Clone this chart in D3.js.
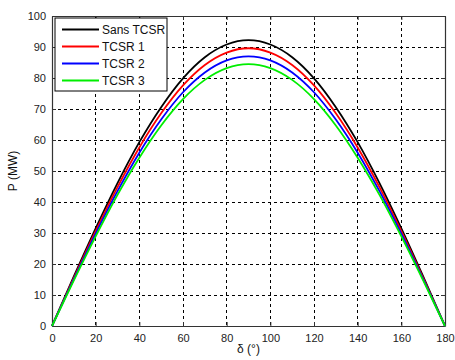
<!DOCTYPE html>
<html>
<head>
<meta charset="utf-8">
<script src="https://cdn.jsdelivr.net/npm/d3@7"></script>
<style>
body { margin: 0; background: #fff; }
svg { display: block; font-family: "Liberation Sans", Arial, sans-serif; }
</style>
</head>
<body>
<svg width="455" height="360"></svg>
<script>
// angles in degrees
const delta = [0, 10, 20, 30, 40, 50, 60, 70, 80, 90, 100, 110, 120, 130, 140, 150, 160, 170, 180];

// P (MW)
const sansTcsr = [0, 16.0, 31.5, 46.1, 59.3, 70.6, 79.9, 86.7, 90.8, 92.2, 90.8, 86.7, 79.9, 70.6, 59.3, 46.1, 31.5, 16.0, 0];
const tcsr1    = [0, 15.5, 30.6, 44.8, 57.6, 68.6, 77.6, 84.2, 88.2, 89.6, 88.2, 84.2, 77.6, 68.6, 57.6, 44.8, 30.6, 15.5, 0];
const tcsr2    = [0, 15.1, 29.8, 43.5, 55.9, 66.6, 75.4, 81.8, 85.7, 87.0, 85.7, 81.8, 75.4, 66.6, 55.9, 43.5, 29.8, 15.1, 0];
const tcsr3    = [0, 14.7, 28.9, 42.3, 54.3, 64.7, 73.2, 79.4, 83.2, 84.5, 83.2, 79.4, 73.2, 64.7, 54.3, 42.3, 28.9, 14.7, 0];

const seriesNames = ["Sans TCSR", "TCSR 1", "TCSR 2", "TCSR 3"];
const seriesColors = ["#000000", "#ff0000", "#0000ff", "#00ee00"];
const xTicks = [0, 20, 40, 60, 80, 100, 120, 140, 160, 180];
const yTicks = [0, 10, 20, 30, 40, 50, 60, 70, 80, 90, 100];

const allSeries = [sansTcsr, tcsr1, tcsr2, tcsr3];

const svg = d3.select('svg');
const plotLeft = 52, plotRight = 445, plotTop = 16, plotBottom = 326;

const x = d3.scaleLinear().domain([0, 180]).range([plotLeft, plotRight]);
const y = d3.scaleLinear().domain([0, 100]).range([plotBottom, plotTop]);

// grid
const grid = svg.append('g').attr('stroke', '#000').attr('stroke-width', 1)
    .attr('stroke-dasharray', '3,3').attr('shape-rendering', 'crispEdges');
xTicks.slice(1, -1).forEach(function (t) {
    grid.append('line').attr('x1', x(t)).attr('x2', x(t)).attr('y1', plotTop).attr('y2', plotBottom);
});
yTicks.slice(1, -1).forEach(function (t) {
    grid.append('line').attr('x1', plotLeft).attr('x2', plotRight).attr('y1', y(t)).attr('y2', y(t));
});

// axes (ticks pointing in, MATLAB style)
const axColor = '#333';
const xAxis = svg.append('g').attr('transform', 'translate(0,' + plotBottom + ')')
    .call(d3.axisBottom(x).tickValues(xTicks).tickSizeInner(-4).tickSizeOuter(0).tickPadding(8));
const yAxis = svg.append('g').attr('transform', 'translate(' + plotLeft + ',0)')
    .call(d3.axisLeft(y).tickValues(yTicks).tickSizeInner(-4).tickSizeOuter(0).tickPadding(6));
const xTop = svg.append('g').attr('transform', 'translate(0,' + plotTop + ')')
    .call(d3.axisTop(x).tickValues(xTicks).tickSizeInner(-4).tickSizeOuter(0).tickFormat(''));
const yRight = svg.append('g').attr('transform', 'translate(' + plotRight + ',0)')
    .call(d3.axisRight(y).tickValues(yTicks).tickSizeInner(-4).tickSizeOuter(0).tickFormat(''));

[xAxis, yAxis, xTop, yRight].forEach(function (g) {
    g.select('.domain').attr('stroke', axColor).attr('stroke-width', 1.2);
    g.selectAll('.tick line').attr('stroke', axColor);
    g.selectAll('text').attr('font-size', 11).attr('fill', '#222')
        .attr('font-family', '"Liberation Sans", Arial, sans-serif');
});

// curves
const line = d3.line()
    .x(function (d, i) { return x(delta[i]); })
    .y(function (d) { return y(d); })
    .curve(d3.curveMonotoneX);

allSeries.forEach(function (s, i) {
    svg.append('path').datum(s)
        .attr('fill', 'none')
        .attr('stroke', seriesColors[i])
        .attr('stroke-width', 1.8)
        .attr('d', line);
});

// legend
const legend = svg.append('g');
legend.append('rect').attr('x', 55).attr('y', 18).attr('width', 112).attr('height', 73)
    .attr('fill', '#fff').attr('stroke', '#000').attr('stroke-width', 1);
seriesNames.forEach(function (name, i) {
    const ly = 29.5 + i * 17;
    legend.append('line').attr('x1', 62).attr('x2', 99).attr('y1', ly).attr('y2', ly)
        .attr('stroke', seriesColors[i]).attr('stroke-width', 1.8);
    legend.append('text').attr('x', 102).attr('y', ly + 4.5).attr('font-size', 12)
        .attr('fill', '#111').text(name);
});

// axis labels
svg.append('text').attr('x', x(90)).attr('y', 353).attr('text-anchor', 'middle')
    .attr('font-size', 12).attr('fill', '#111').text('δ (°)');
svg.append('text').attr('transform', 'translate(17,' + y(50) + ') rotate(-90)')
    .attr('text-anchor', 'middle').attr('font-size', 12).attr('fill', '#111').text('P (MW)');
</script>
</body>
</html>
